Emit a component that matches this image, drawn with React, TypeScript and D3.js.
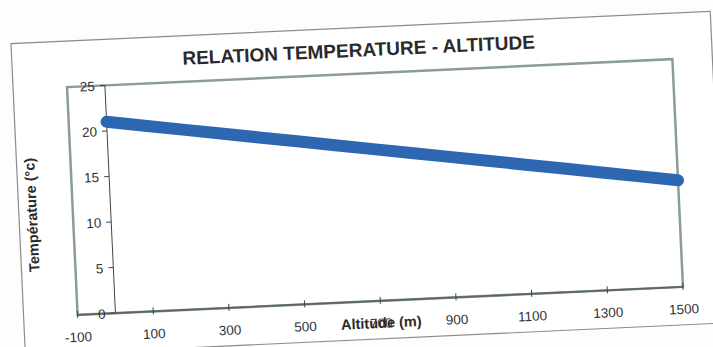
import * as d3 from "d3";

// scanned Excel chart: RELATION TEMPERATURE - ALTITUDE
const title = "RELATION TEMPERATURE - ALTITUDE";
const xTitle = "Altitude (m)";
const yTitle = "Température (°c)";

const altitudes = [0, 100, 200, 300, 400, 500, 600, 700, 800, 900, 1000, 1100, 1200, 1300, 1400, 1500];
const temperatures = [
  21.0, 20.38, 19.76, 19.14, 18.52, 17.9, 17.28, 16.66, 16.04, 15.42, 14.8, 14.18, 13.56, 12.94, 12.32, 11.7,
];

const xTicks = [-100, 100, 300, 500, 700, 900, 1100, 1300, 1500];
const yTicks = [0, 5, 10, 15, 20, 25];

const W = 713;
const H = 347;
const frame = { left: 72, right: 678, top: 73, bottom: 301 };
const font = "'Liberation Sans', Arial, sans-serif";

export default function App() {
  const x = d3.scaleLinear().domain([-100, 1500]).range([frame.left, frame.right]);
  const y = d3.scaleLinear().domain([0, 25]).range([frame.bottom, frame.top]);

  const pts = altitudes.map((a, i) => [a, temperatures[i]] as [number, number]);
  const line = d3
    .line<[number, number]>()
    .x((d) => x(d[0]))
    .y((d) => y(d[1]));

  const cx = (frame.left + frame.right) / 2;
  const cy = (frame.top + frame.bottom) / 2;

  return (
    <svg
      width={W}
      height={H}
      style={{ position: "absolute", left: 0, top: 0, background: "#fdfdfb" }}
    >
      {/* the scan is tilted a little */}
      <g transform={`rotate(-2.65, ${cx}, ${cy})`} fontFamily={font} fill="#333">
        <rect x={18} y={27} width={700} height={312} fill="#fff" stroke="#8c8c8c" strokeWidth={1.2} />
        <text x={365} y={56} textAnchor="middle" fontSize={19} fontWeight="bold" fill="#2a2a2a">
          {title}
        </text>

        <rect
          x={frame.left}
          y={frame.top}
          width={frame.right - frame.left}
          height={frame.bottom - frame.top}
          fill="#fff"
          stroke="#8a9c9c"
          strokeWidth={2.5}
        />
        <line x1={frame.left} x2={frame.right} y1={frame.bottom} y2={frame.bottom} stroke="#5d6464" strokeWidth={1.8} />

        {/* y axis at x = 0 */}
        <line x1={x(0)} x2={x(0)} y1={frame.top} y2={frame.bottom} stroke="#444" strokeWidth={1} />
        {yTicks.map((t) => (
          <g key={t}>
            <line x1={x(0) - 5} x2={x(0)} y1={y(t)} y2={y(t)} stroke="#444" />
            <text x={x(0) - 10} y={y(t) + 5} textAnchor="end" fontSize={13.5}>
              {t}
            </text>
          </g>
        ))}

        {xTicks.map((t) => (
          <g key={t}>
            <line x1={x(t)} x2={x(t)} y1={frame.bottom - 4} y2={frame.bottom + 3} stroke="#444" />
            <text x={x(t)} y={frame.bottom + 27} textAnchor="middle" fontSize={13.5}>
              {t}
            </text>
          </g>
        ))}

        <text x={cx} y={frame.bottom + 27} textAnchor="middle" fontSize={14.5} fontWeight="bold" fill="#2a2a2a">
          {xTitle}
        </text>
        <text
          transform={`translate(36, 199) rotate(-90)`}
          textAnchor="middle"
          fontSize={14.5}
          fontWeight="bold"
          fill="#2a2a2a"
        >
          {yTitle}
        </text>

        <path
          d={line(pts) ?? ""}
          fill="none"
          stroke="#2d66b1"
          strokeWidth={12}
          strokeLinecap="round"
          strokeLinejoin="round"
        />
      </g>
    </svg>
  );
}
